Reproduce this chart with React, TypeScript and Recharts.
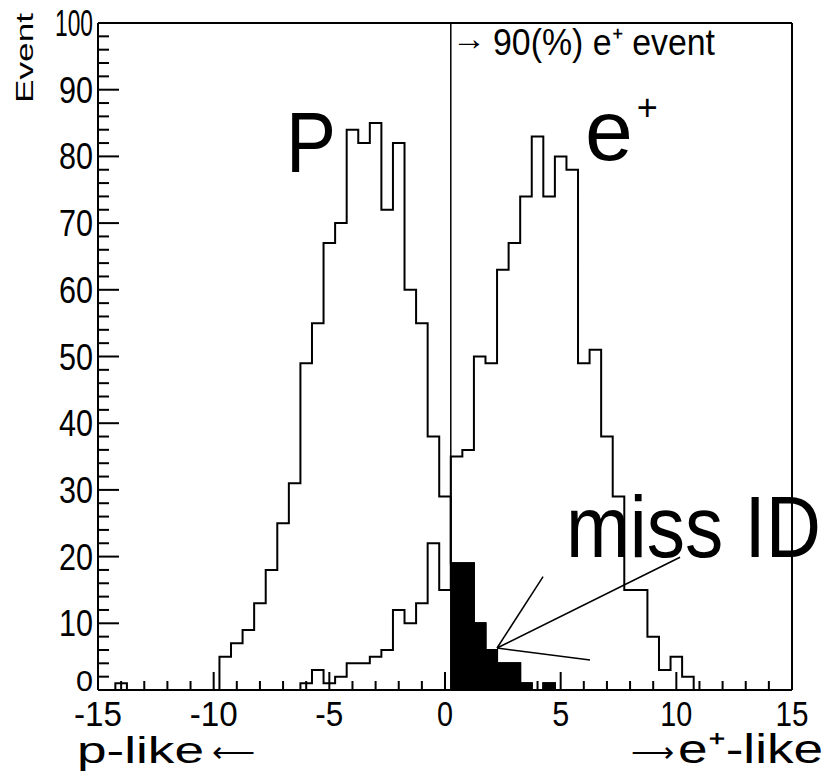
import React from "react";
import { ComposedChart, Line, Area, XAxis, YAxis, ReferenceLine } from "recharts";

// bin centres (bin width 0.5)
const binCenters = [
  -14.5, -14, -13.5, -13, -12.5, -12, -11.5, -11, -10.5, -10,
  -9.5, -9, -8.5, -8, -7.5, -7, -6.5, -6, -5.5, -5,
  -4.5, -4, -3.5, -3, -2.5, -2, -1.5, -1, -0.5, 0,
  0.5, 1, 1.5, 2, 2.5, 3, 3.5, 4, 4.5, 5,
  5.5, 6, 6.5, 7, 7.5, 8, 8.5, 9, 9.5, 10,
  10.5, 11,
];

const protonCounts = [
  0, 1, 0, 0, 0, 0, 0, 0, 0, 0,
  5, 7, 9, 13, 18, 25, 31, 49, 55, 67,
  70, 84, 82, 85, 72, 82, 60, 55, 38, 29,
  19, 19, 10, 6, 4, 4, 1, 0, 1, 0,
  0, 0, 0, 0, 0, 0, 0, 0, 0, 0,
  0, 0,
];

const positronCounts = [
  0, 0, 0, 0, 0, 0, 0, 0, 0, 0,
  0, 0, 0, 0, 0, 0, 0, 1, 3, 1,
  2, 4, 4, 5, 6, 12, 10, 13, 22, 15,
  35, 36, 50, 49, 63, 67, 74, 83, 74, 80,
  78, 49, 51, 38, 29, 15, 15, 8, 3, 5,
  2, 0,
];

const cutValue = 0.25;
const binHalf = 0.25;

const xTicks = [-15, -14, -13, -12, -11, -10, -9, -8, -7, -6, -5, -4, -3, -2, -1, 0, 1, 2, 3, 4, 5, 6, 7, 8, 9, 10, 11, 12, 13, 14, 15];
const yTicks = [0, 2, 4, 6, 8, 10, 12, 14, 16, 18, 20, 22, 24, 26, 28, 30, 32, 34, 36, 38, 40, 42, 44, 46, 48, 50, 52, 54, 56, 58, 60, 62, 64, 66, 68, 70, 72, 74, 76, 78, 80, 82, 84, 86, 88, 90, 92, 94, 96, 98, 100];

const xLabelWidth: Record<string, number> = { "-15": 48, "-10": 48, "-5": 28, "0": 16, "5": 17, "10": 32, "15": 33 };

const data = binCenters.map((c, i) => ({
  x: c - binHalf,
  p: protonCounts[i],
  e: positronCounts[i],
  miss: c > cutValue ? protonCounts[i] : null,
}));
data.push({ x: binCenters[binCenters.length - 1] + binHalf, p: 0, e: 0, miss: 0 });

const FONT = "'Liberation Sans', Arial, sans-serif";

const XTick = (props: any) => {
  const { x, y, payload } = props;
  const v = payload.value;
  const major = v % 5 === 0;
  return (
    <g>
      <line x1={x} x2={x} y1={y} y2={y - (major ? 18 : 9)} stroke="#000" strokeWidth={2} />
      {major && (
        <text x={x} y={y + 36} textAnchor="middle" fontFamily={FONT} fontSize={35}
          textLength={xLabelWidth[String(v)]} lengthAdjust="spacingAndGlyphs" fill="#000">
          {v}
        </text>
      )}
    </g>
  );
};

const YTick = (props: any) => {
  const { x, y, payload } = props;
  const v = payload.value;
  const major = v % 10 === 0;
  const w = v === 100 ? 38 : v >= 10 ? 34 : 17;
  return (
    <g>
      <line x1={x} x2={x + (major ? 21 : 11)} y1={y} y2={y} stroke="#000" strokeWidth={2} />
      {major && (
        <text x={x - 5} y={v === 0 ? y + 1 : y + 13} textAnchor="end" fontFamily={FONT} fontSize={v === 0 ? 30 : 37}
          textLength={w} lengthAdjust="spacingAndGlyphs" fill="#000">
          {v}
        </text>
      )}
    </g>
  );
};

export default function App() {
  return (
    <div style={{ position: "absolute", left: 0, top: 0, width: 835, height: 777, background: "#fff" }}>
      <ComposedChart width={835} height={777} data={data} margin={{ top: 23, right: 43, bottom: 0, left: 0 }}>
        <XAxis type="number" dataKey="x" domain={[-15, 15]} ticks={xTicks} interval={0} allowDataOverflow
          height={87} tickSize={0} tickMargin={0} tick={<XTick />} tickLine={false}
          axisLine={{ stroke: "#000", strokeWidth: 2 }} />
        <YAxis type="number" domain={[0, 100]} ticks={yTicks} interval={0} allowDataOverflow
          width={98} tickSize={0} tickMargin={0} tick={<YTick />} tickLine={false}
          axisLine={{ stroke: "#000", strokeWidth: 2 }} />
        <ReferenceLine x={15} stroke="#000" strokeWidth={2} />
        <ReferenceLine y={100} stroke="#000" strokeWidth={2} />
        <Area type="stepAfter" dataKey="miss" stroke="#000" strokeWidth={2} fill="#000" fillOpacity={1}
          isAnimationActive={false} connectNulls={false} dot={false} activeDot={false} />
        <Line type="stepAfter" dataKey="p" stroke="#000" strokeWidth={2} dot={false} isAnimationActive={false} />
        <Line type="stepAfter" dataKey="e" stroke="#000" strokeWidth={2} dot={false} isAnimationActive={false} />
        <ReferenceLine x={cutValue} stroke="#000" strokeWidth={1.5} />
        <ReferenceLine segment={[{ x: 2.25, y: 6.3 }, { x: 4.24, y: 17 }]} stroke="#000" strokeWidth={1.5} />
        <ReferenceLine segment={[{ x: 2.25, y: 6.3 }, { x: 10.16, y: 19.9 }]} stroke="#000" strokeWidth={1.5} />
        <ReferenceLine segment={[{ x: 2.25, y: 6.3 }, { x: 6.27, y: 4.5 }]} stroke="#000" strokeWidth={1.5} />
      </ComposedChart>
      <svg width={835} height={777} style={{ position: "absolute", left: 0, top: 0, pointerEvents: "none" }}
        fontFamily={FONT} fill="#000">
        <text transform="translate(33,103) rotate(-90)" fontSize={24} textLength={90} lengthAdjust="spacingAndGlyphs">Event</text>
        <text x={452} y={50} fontSize={34}>→</text>
        <text x={493} y={55} fontSize={36} textLength={222} lengthAdjust="spacingAndGlyphs">90(%) e⁺ event</text>
        <text x={286} y={172} fontSize={86} textLength={50} lengthAdjust="spacingAndGlyphs">P</text>
        <text x={585} y={160} fontSize={86}>e<tspan dy={-40} dx={4} fontSize={36}>+</tspan></text>
        <text x={566} y={557} fontSize={88} textLength={255} lengthAdjust="spacingAndGlyphs">miss ID</text>
        <text x={77} y={763} fontSize={36} textLength={127} lengthAdjust="spacingAndGlyphs">p-like</text>
        <text x={212} y={762} fontSize={28} textLength={43} lengthAdjust="spacingAndGlyphs">⟵</text>
        <text x={631} y={762} fontSize={28} textLength={43} lengthAdjust="spacingAndGlyphs">⟶</text>
        <text x={678} y={763} fontSize={41} textLength={145} lengthAdjust="spacingAndGlyphs">e⁺-like</text>
      </svg>
    </div>
  );
}
